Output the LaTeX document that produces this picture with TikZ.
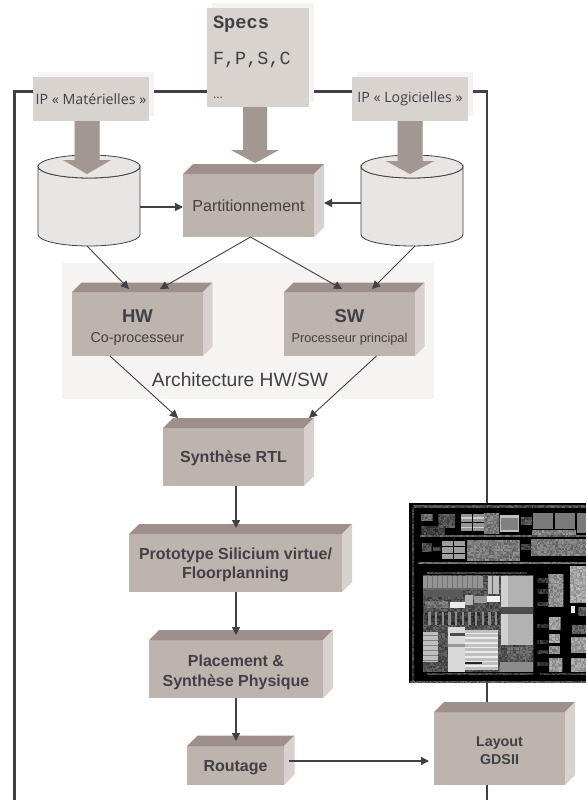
\documentclass[tikz,border=0pt]{standalone}
\usepackage{fontspec}
\setmainfont{Liberation Sans}
\newfontfamily\monofam{Liberation Mono}
\newfontfamily\ipfam{Open Sans}
\usetikzlibrary{arrows.meta,calc}
\definecolor{ink}{HTML}{404046}
\definecolor{frontc}{HTML}{BDB4AE}
\definecolor{topc}{HTML}{9E8F8A}
\definecolor{sidec}{HTML}{D8D1CE}
\definecolor{labelc}{HTML}{D9D3D0}
\definecolor{shadowc}{HTML}{F5F4F2}
\definecolor{cylc}{HTML}{E8E5E2}
\definecolor{barc}{HTML}{A39791}
\definecolor{barshadow}{HTML}{DAD5D1}
\tikzset{
  blkface/.style={fill=frontc,inner sep=0pt,outer sep=0pt},
  blktext/.style={text=ink,inner sep=0pt,outer sep=0pt,align=center},
  labelbox/.style={fill=labelc,text=ink,inner sep=0pt,outer sep=0pt,align=center},
  thinlink/.style={draw=ink,line width=0.9pt,-{Triangle[length=8pt,width=8pt]}},
  vertlink/.style={draw=ink,line width=1.4pt,-{Triangle[length=8pt,width=8pt]}},
  framewire/.style={draw=ink,line width=2.4pt,line cap=butt},
  cyl/.style={fill=cylc,draw=ink,line width=0.8pt},
  txt/.style={text=ink,inner sep=0pt,outer sep=0pt}
}
\newcommand\blkfont{}
\newcommand\blkdy{0}
% name, x0,y0,x1,y1, depth, text (font in \blkfont, downward text offset in \blkdy)
\newcommand\blk[7]{%
  \pgfmathsetmacro\bw{#4-#2}\pgfmathsetmacro\bh{#5-#3}%
  \pgfmathsetmacro\bx{(#2+#4)/2}\pgfmathsetmacro\by{(#3+#5)/2}%
  \node[blkface,minimum width=\bw pt,minimum height=\bh pt] (#1) at (\bx,\by) {};
  \fill[topc] (#1.north west) -- ++(#6,-#6) -- ($(#1.north east)+(#6,-#6)$) -- (#1.north east) -- cycle;
  \fill[sidec] (#1.north east) -- ++(#6,-#6) -- ($(#1.south east)+(#6,-#6)$) -- (#1.south east) -- cycle;
  \node[blktext,font=\blkfont] (#1text) at ([yshift=-\blkdy pt]#1.center) {#7};
}
% name, x0,y0,x1,y1 : label box with soft shadow
\newcommand\lbl[6]{%
  \pgfmathsetmacro\bw{#4-#2}\pgfmathsetmacro\bh{#5-#3}%
  \pgfmathsetmacro\bx{(#2+#4)/2}\pgfmathsetmacro\by{(#3+#5)/2}%
  \fill[shadowc] (#2+5,#3-5) rectangle (#4+5,#5-5);
  \node[labelbox,minimum width=\bw pt,minimum height=\bh pt] (#1) at (\bx,\by) {#6};
}
% name, x0,y0,x1,y1 : drum
\newcommand\drum[5]{%
  \pgfmathsetmacro\bw{#4-#2}\pgfmathsetmacro\bh{#5-#3}%
  \pgfmathsetmacro\bx{(#2+#4)/2}\pgfmathsetmacro\by{(#3+#5)/2}\pgfmathsetmacro\rx{(#4-#2)/2}%
  \node[inner sep=0pt,outer sep=0pt,minimum width=\bw pt,minimum height=\bh pt] (#1) at (\bx,\by) {};
  \draw[cyl] ($(#1.north west)+(0,11.5)$) -- ($(#1.south west)+(0,-11.5)$)
     arc[start angle=180,end angle=0,x radius=\rx,y radius=11.5]
     -- ($(#1.north east)+(0,11.5)$)
     arc[start angle=0,end angle=180,x radius=\rx,y radius=11.5] -- cycle;
  \draw[cyl] ($(#1.north)+(0,11.5)$) ellipse[x radius=\rx,y radius=11.5];
}
% from-node, tip coordinate, head length, half shaft, half head
\newcommand\bigarrow[5]{%
  \foreach \ox/\oy/\cc in {5/-5/barshadow,0/0/barc}{%
    \fill[\cc,shift={(\ox,\oy)}] let \p1=(#1.south), \p2=(#2) in
      (\x2-#4,\y1) -- (\x2-#4,\y2+#3) -- (\x2-#5,\y2+#3) -- (\x2,\y2)
      -- (\x2+#5,\y2+#3) -- (\x2+#4,\y2+#3) -- (\x2+#4,\y1) -- cycle;
  }%
}
% noise block in zoom units
\newcommand\noisy[6]{%
  \begin{scope}
  \clip (#1,#2) rectangle (#3,#4);
  \pgfmathsetmacro\xb{#1+4.5}\pgfmathsetmacro\yb{#2+4.5}%
  \pgfmathtruncatemacro\lov{(#5+#6)/2-3}\pgfmathtruncatemacro\hiv{(#5+#6)/2+17}%
  \foreach \xx in {#1,\xb,...,#3}{\foreach \yy in {#2,\yb,...,#4}{%
    \pgfmathrandominteger{\grayv}{\lov}{\hiv}%
    \fill[black!\grayv!white] (\xx,\yy) rectangle ++(4.8,4.8);
  }}%
  \end{scope}%
}
\begin{document}
\begin{tikzpicture}[x=1pt,y=-1pt]
\useasboundingbox (0,0) rectangle (586,800);
\pgfmathsetseed{4711}
% outer frame wire
\coordinate (wl) at (14.5,800);
\coordinate (wtl) at (14.5,91.5);
\coordinate (wtr) at (487,91.5);
\coordinate (wr) at (487,800);
\draw[framewire,line join=miter] (wl) -- (wtl) -- (wtr) -- (wr);
% architecture panel
\node[fill=shadowc,inner sep=0pt,minimum width=372pt,minimum height=136pt] (panel) at (248,331) {};
% specs and IP boxes
\lbl{specs}{207}{8}{309}{107}{}
\node[txt,anchor=base west,font=\monofam\bfseries\fontsize{18.7}{18}\selectfont] (specstitle) at (213,29) {Specs};
\node[txt,anchor=base west,font=\monofam\fontsize{18.5}{18}\selectfont] (specsfpsc) at (213,64) {F,P,S,C};
\node[txt,anchor=base west,font=\fontsize{12}{12}\selectfont] (specsdots) at (213,98) {...};
\lbl{ipm}{33}{77}{149}{121}{\raisebox{-1.5pt}{\ipfam\fontsize{14.2}{14}\selectfont IP « Matérielles »}}
\lbl{ipl}{352}{77}{468}{121}{\raisebox{-1.5pt}{\ipfam\fontsize{14.2}{14}\selectfont IP « Logicielles »}}
% drums
\drum{cl}{38}{155}{140}{246}
\drum{cr}{361}{155}{463}{246}
% boxes
\renewcommand\blkfont{\fontsize{16}{18}\selectfont}
\blk{part}{183}{174}{314}{237}{10}{Partitionnement}
\renewcommand\blkfont{\fontsize{14}{17}\selectfont}
\blk{hw}{72}{292}{203}{356}{9.5}{\rule{0pt}{20pt}{\bfseries\fontsize{18.5}{21}\selectfont HW}\\[3pt]{\fontsize{14.3}{16}\selectfont Co-processeur}}
\blk{sw}{284}{292}{415}{356}{9.5}{\rule{0pt}{20pt}{\bfseries\fontsize{18.5}{21}\selectfont SW}\\[3pt]{\fontsize{12.8}{16}\selectfont Processeur principal}}
\renewcommand\blkfont{\bfseries\fontsize{16}{19.5}\selectfont}
\renewcommand\blkdy{1.5}
\blk{rtl}{163}{428}{304}{486}{10}{Synthèse RTL}
\renewcommand\blkdy{2}
\blk{proto}{129}{534}{342}{592}{10}{Prototype Silicium virtue/\\Floorplanning}
\renewcommand\blkdy{3.5}
\blk{place}{149}{640}{323}{698}{10}{Placement \&\\Synthèse Physique}
\renewcommand\blkdy{2}
\blk{route}{187}{746}{284}{785}{10.5}{Routage}
\renewcommand\blkfont{\bfseries\fontsize{14.3}{18}\selectfont}
\blk{gds}{434}{712}{565}{785}{10}{Layout\\GDSII}
\node[txt,font=\fontsize{19.2}{22}\selectfont] (archi) at (240,380) {Architecture HW/SW};
% big arrows
\coordinate (tipm) at (87,174);
\coordinate (tips) at (255,163);
\coordinate (tipl) at (410,174);
\bigarrow{ipm}{tipm}{14}{12.5}{24}
\bigarrow{ipl}{tipl}{13}{12.5}{24}
\bigarrow{specs}{tips}{13}{12}{24}
% connectors
\draw[thinlink] ([xshift=-2pt]cl.south) -- ([xshift=-8.5pt,yshift=3pt]hw.north);
\draw[thinlink] ([xshift=2pt]part.south) -- ([xshift=22.5pt,yshift=3pt]hw.north);
\draw[thinlink] ([xshift=2pt]part.south) -- ([xshift=-7.5pt,yshift=3pt]sw.north);
\draw[thinlink] ([xshift=3pt]cr.south) -- ([xshift=22.5pt,yshift=3pt]sw.north);
\draw[thinlink] ([xshift=-27.5pt]hw.south) -- ([xshift=-55.5pt,yshift=10pt]rtl.north);
\draw[thinlink] ([xshift=27pt]sw.south) -- ([xshift=75.5pt,yshift=10pt]rtl.north);
\draw[vertlink] ([xshift=2.5pt]rtl.south) -- ([xshift=.5pt,yshift=6pt]proto.north);
\draw[vertlink] ([xshift=.5pt]proto.south) -- ([yshift=5pt]place.north);
\draw[vertlink] (place.south) -- ([xshift=.5pt,yshift=5pt]route.north);
\draw[vertlink,line width=1.2pt] ([xshift=5pt,yshift=4.5pt]route.east) -- ([yshift=-12.5pt,xshift=-5pt]gds.west);
\draw[vertlink] ([yshift=-6.5pt]cl.east) -- ([yshift=-1.5pt]part.west);
\draw[vertlink] ([yshift=-2.5pt]cr.west) -- ([xshift=10pt,yshift=2.5pt]part.east);
% die photograph
\begin{scope}[shift={(400,490)},x=0.3333pt,y=-0.3333pt]
\fill[black] (28,38) rectangle (558,580);
\noisy{40}{44}{558}{52}{45}{80}
\noisy{30}{572}{558}{578}{35}{85}
\noisy{36}{52}{42}{572}{55}{85}
\noisy{62}{72}{98}{92}{25}{75}
\noisy{64}{108}{135}{134}{55}{85}
\noisy{115}{72}{165}{112}{45}{80}
\foreach \cx/\cy in {182/72,218/72,182/100,218/100}{\fill[black!42!white] (\cx,\cy) rectangle ++(33,24);\fill[black!20!white] (\cx,\cy+10) rectangle ++(33,4);}
\noisy{252}{70}{298}{132}{30}{60}
\fill[black!25!white] (300,76) rectangle (358,126);
\fill[black!50!white] (304,85) rectangle (354,120);
\noisy{362}{82}{396}{104}{50}{75}
\fill[black!52!white] (400,68) rectangle (460,118);
\fill[black!52!white] (465,68) rectangle (525,118);
\fill[black!52!white] (530,68) rectangle (558,128);
\noisy{396}{120}{528}{132}{30}{55}
\noisy{60}{136}{558}{140}{40}{70}
\noisy{65}{160}{95}{185}{45}{80}
\noisy{98}{170}{122}{180}{50}{80}
\foreach \cx/\cy in {125/152,162/152,125/172,162/172,125/192,162/192}{\fill[black!38!white] (\cx,\cy) rectangle ++(34,16);}
\noisy{200}{150}{360}{212}{30}{60}
\noisy{362}{162}{392}{178}{55}{80}
\noisy{392}{148}{558}{198}{30}{60}
\noisy{55}{216}{558}{221}{35}{65}
\noisy{80}{246}{380}{250}{50}{85}
% large block
\noisy{68}{255}{400}{545}{50}{72}
\fill[black!42!white] (70,258) rectangle (248,295);
\foreach \sx in {80,95,...,240}{\fill[black!55!white] (\sx,258) rectangle ++(3,37);}
\fill[black!60!white] (70,295) rectangle (260,300);
\fill[black!25!white] (265,258) rectangle (298,312);
\fill[black!65!white] (275,258) rectangle (280,312);
\fill[black!30!white] (302,258) rectangle (400,350);
\fill[black!18!white] (302,258) rectangle (325,350);
\fill[black!30!white] (302,372) rectangle (400,465);
\fill[black!18!white] (302,372) rectangle (325,465);
\fill[black!70!white] (302,350) rectangle (400,372);
\noisy{75}{365}{300}{405}{60}{80}
\foreach \sx in {85,105,...,295}{\fill[black!45!white] (\sx,365) rectangle ++(7,40);}
\fill[black!65!white] (75,300) rectangle (190,320);
\noisy{75}{332}{145}{352}{30}{65}
\fill[black!8!white] (150,335) rectangle (195,355);
\fill[black!30!white] (196,315) rectangle (220,345);
\fill[black!6!white] (262,318) rectangle (300,335);
\fill[black!40!white] (222,318) rectangle (260,340);
\fill[black!25!white] (70,425) rectangle (115,515);
\foreach \sy in {435,450,...,510}{\fill[black!50!white] (70,\sy) rectangle (115,\sy+3);}
\fill[black!15!white] (145,410) rectangle (195,545);
\fill[black!70!white] (150,430) rectangle (195,438);
\fill[black!40!white] (145,462) rectangle (195,472);
\fill[black!25!white] (195,420) rectangle (295,540);
\foreach \sy in {428,442,...,535}{\fill[black!8!white] (195,\sy) rectangle (295,\sy+5);}
\fill[black!85!white] (195,515) rectangle (245,522);
\fill[black!45!white] (300,515) rectangle (400,545);
\noisy{320}{470}{395}{510}{35}{75}
% right-hand blocks
\noisy{445}{252}{490}{350}{25}{50}
\noisy{510}{228}{558}{338}{18}{40}
\noisy{447}{382}{482}{420}{20}{45}
\noisy{447}{432}{480}{457}{20}{45}
\noisy{447}{468}{480}{492}{25}{50}
\noisy{447}{505}{487}{545}{20}{45}
\noisy{513}{440}{558}{488}{20}{45}
\noisy{513}{503}{558}{545}{20}{45}
\noisy{535}{350}{558}{378}{40}{75}
\fill[black!8!white] (513,347) rectangle (525,368);
\noisy{515}{405}{558}{430}{40}{75}
\noisy{412}{265}{445}{277}{60}{85}
\noisy{412}{298}{445}{310}{60}{85}
\noisy{412}{335}{445}{347}{60}{85}
\noisy{412}{402}{445}{414}{60}{85}
\noisy{412}{450}{445}{462}{60}{85}
\noisy{412}{480}{445}{492}{60}{85}
\noisy{412}{515}{445}{527}{60}{85}
\noisy{80}{548}{400}{553}{50}{85}
\noisy{420}{548}{558}{554}{55}{85}
\end{scope}
\end{tikzpicture}
\end{document}
